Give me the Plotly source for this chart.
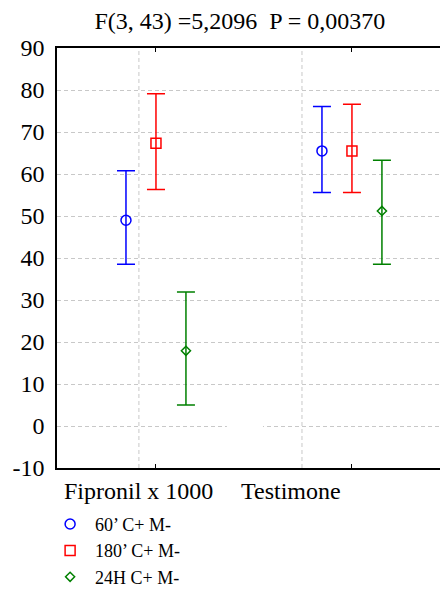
import plotly.graph_objects as go

# Data
categories = ["Fipronil x 1000", "Testimone"]
series_names = ["60’ C+ M-", "180’ C+ M-", "24H C+ M-"]
means = {
    "60’ C+ M-": [49.0, 65.5],
    "180’ C+ M-": [67.3, 65.5],
    "24H C+ M-": [17.9, 51.2],
}
upper = {
    "60’ C+ M-": [60.8, 76.1],
    "180’ C+ M-": [79.1, 76.6],
    "24H C+ M-": [31.9, 63.3],
}
lower = {
    "60’ C+ M-": [38.5, 55.6],
    "180’ C+ M-": [56.3, 55.6],
    "24H C+ M-": [5.0, 38.5],
}
y_ticks = list(range(-10, 100, 10))
y_tick_labels = [str(v) for v in y_ticks]  # plain hyphen for negatives
title_text = "F(3, 43) =5,2096  P = 0,00370"

# Styles
colors = ["#0000ff", "#ff0000", "#008000"]
symbols = ["circle-open", "square-open", "diamond-open"]
sizes = [10, 10, 7]
offsets = [-0.153, 0.0, 0.153]
group_pos = [1, 2]
FONT = "Liberation Serif"

fig = go.Figure()
for i, name in enumerate(series_names):
    xs = [g + offsets[i] for g in group_pos]
    m = means[name]
    up = [u - v for u, v in zip(upper[name], m)]
    lo = [v - l for v, l in zip(m, lower[name])]
    fig.add_trace(go.Scatter(
        x=xs, y=m, mode="markers", name=name,
        marker=dict(symbol=symbols[i], size=sizes[i], color=colors[i],
                    line=dict(width=1.5, color=colors[i])),
        error_y=dict(type="data", symmetric=False, array=up, arrayminus=lo,
                     color=colors[i], thickness=1.5, width=9),
    ))

# vertical dashed grid lines (category separators)
grid_x = [0.913, 1.745]
for gx in grid_x:
    fig.add_shape(type="line", xref="x", yref="paper", x0=gx, x1=gx, y0=0, y1=1,
                  line=dict(color="#c8c8c8", width=1, dash="4px,3px"), layer="below")

# small gap in the zero grid line as in the reference
fig.add_shape(type="rect", xref="x", yref="y", x0=1.362, x1=1.546, y0=-0.4, y1=0.4,
              fillcolor="white", line=dict(width=0), layer="above")

label_x = [0.913, 1.689]
for lx, cat in zip(label_x, categories):
    fig.add_annotation(x=lx, xref="x", y=-10, yref="y", yshift=-23, text=cat,
                       showarrow=False, font=dict(family=FONT, size=24, color="black"),
                       xanchor="center", yanchor="middle")

# page body has an 8px margin: figure is sized/placed to compensate
fig.update_layout(
    width=440, height=581,
    margin=dict(l=49, r=1, t=40, b=121, autoexpand=False),
    paper_bgcolor="white", plot_bgcolor="white",
    font=dict(family=FONT, color="black"),
    title=dict(text=title_text, x=0.527, xref="container", xanchor="center",
               y=1 - 13 / 581, yref="container", yanchor="middle",
               font=dict(family=FONT, size=24, color="black")),
    showlegend=True,
    legend=dict(x=-0.0305, xanchor="left", y=-0.09, yanchor="top",
                font=dict(family=FONT, size=18, color="black"),
                bgcolor="rgba(0,0,0,0)", tracegroupgap=0, itemwidth=40),
)
fig.update_xaxes(range=[0.495, 2.485], tickvals=group_pos, ticks="inside", ticklen=4,
                 tickcolor="black", showticklabels=False, showgrid=False, zeroline=False,
                 showline=True, linecolor="black", linewidth=1.5, mirror="ticks")
fig.update_yaxes(range=[-10, 90], tickvals=y_ticks, ticktext=y_tick_labels, ticks="",
                 showgrid=True, gridcolor="#c8c8c8", griddash="4px,3px", gridwidth=1,
                 zeroline=False, showline=True, linecolor="black", linewidth=1.5, mirror=True,
                 tickfont=dict(family=FONT, size=24, color="black"), ticklabelstandoff=6)

fig.write_html("out.html")
